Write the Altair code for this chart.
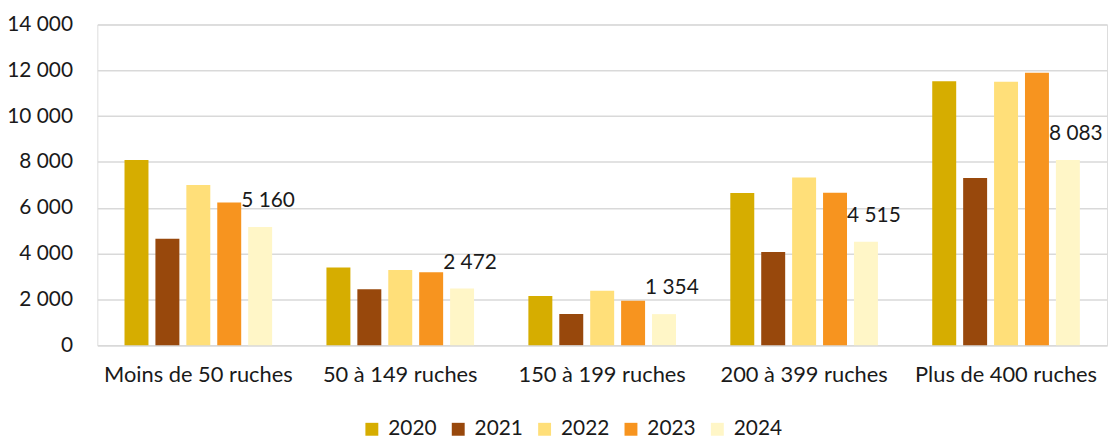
import altair as alt
import pandas as pd

categories = ["Moins de 50 ruches", "50 à 149 ruches", "150 à 199 ruches",
              "200 à 399 ruches", "Plus de 400 ruches"]
years = ["2020", "2021", "2022", "2023", "2024"]
v2020 = [8080, 3390, 2150, 6640, 11520]
v2021 = [4650, 2440, 1360, 4070, 7300]
v2022 = [6990, 3280, 2370, 7320, 11500]
v2023 = [6230, 3180, 1935, 6650, 11890]
v2024 = [5160, 2472, 1354, 4515, 8083]
colors = ["#D6AD00", "#98480C", "#FFDF79", "#F7941F", "#FFF6C7"]
y_ticks = [0, 2000, 4000, 6000, 8000, 10000, 12000, 14000]

series = {"2020": v2020, "2021": v2021, "2022": v2022, "2023": v2023, "2024": v2024}
rows = []
for yr in years:
    for cat, val in zip(categories, series[yr]):
        rows.append({"cat": cat, "year": yr, "value": val,
                     "label": f"{val:,}".replace(",", " ")})
df = pd.DataFrame(rows)

FONT = "Lato"
FS = 21
TXT = "#1a1a1a"

x_enc = alt.X("cat:N", sort=categories,
              scale=alt.Scale(paddingInner=0.269, paddingOuter=0.1345),
              axis=alt.Axis(title=None, labelAngle=0, domain=True, domainColor="#D9D9D9",
                            domainWidth=1.5, ticks=False, labelFontSize=22, labelPadding=20,
                            labelColor=TXT, labelFont=FONT, labelLimit=400))
xoff_enc = alt.XOffset("year:N", sort=years,
                       scale=alt.Scale(paddingInner=0.225, paddingOuter=0))
y_enc = alt.Y("value:Q", scale=alt.Scale(domain=[0, 14000], nice=False),
              axis=alt.Axis(title=None, values=y_ticks, domain=False, ticks=False,
                            gridColor="#D9D9D9", gridWidth=1.5, labelPadding=25,
                            labelFontSize=FS, labelColor=TXT, labelFont=FONT,
                            labelExpr="replace(format(datum.value, ','), ',', ' ')"))

bars = alt.Chart(df).mark_bar().encode(
    x=x_enc,
    xOffset=xoff_enc,
    y=y_enc,
    color=alt.Color("year:N", scale=alt.Scale(domain=years, range=colors),
                    legend=alt.Legend(title=None, orient="none", legendX=266, legendY=397,
                                      direction="horizontal", symbolType="square",
                                      symbolSize=169, symbolStrokeWidth=0,
                                      labelFontSize=FS, labelFont=FONT, labelColor=TXT,
                                      labelOffset=6, columnPadding=11, padding=0)),
)

labels = alt.Chart(df).transform_filter(alt.datum.year == "2024").mark_text(
    baseline="bottom", dy=-16, dx=8, fontSize=FS, font=FONT, color=TXT
).encode(
    x=alt.X("cat:N", sort=categories),
    xOffset=alt.XOffset("year:N", sort=years),
    y=alt.Y("value:Q"),
    text="label:N",
)

chart = alt.layer(bars, labels).properties(
    width=1017, height=323,
    autosize=alt.AutoSizeParams(type="none"),
    padding={"left": 90, "top": 15, "right": 2, "bottom": 100},
).configure_view(stroke=None).configure(font=FONT)

chart.save("out.html", embed_options={"renderer": "svg", "actions": False})
